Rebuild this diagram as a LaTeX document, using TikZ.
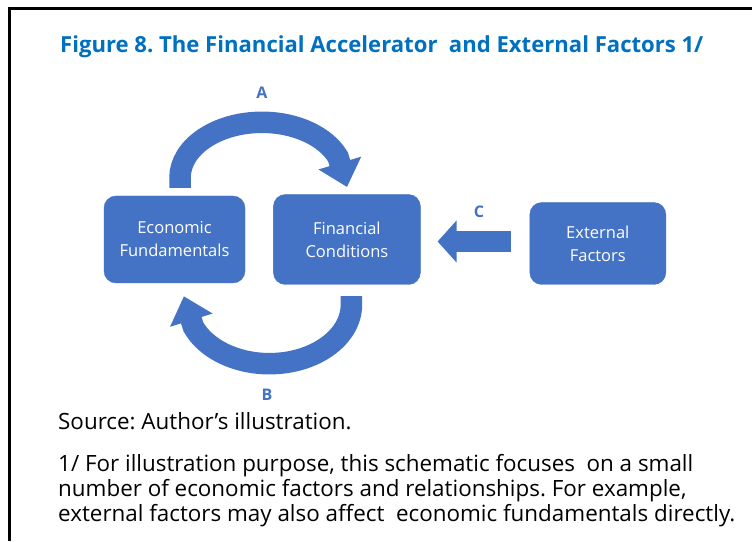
\documentclass[tikz,border=0pt]{standalone}
\usepackage{fontspec}
\setmainfont{Open Sans}
\frenchspacing
\usetikzlibrary{arrows.meta,positioning}
\definecolor{boxblue}{HTML}{4472C4}
\definecolor{titleblue}{HTML}{0070C0}

\begin{document}
\begin{tikzpicture}[x=1pt,y=1pt,
  box/.style={draw=boxblue,fill=boxblue,rounded corners=12pt,text=white,align=center,
              inner sep=0pt,font=\fontsize{16.5}{23}\selectfont},
  tag/.style={text=boxblue,font=\fontsize{16}{16}\selectfont\bfseries},
  flow/.style={draw=boxblue,line width=21.5pt,-{Triangle[length=25pt,width=43pt]}},
  note/.style={anchor=base west,inner sep=0pt,font=\fontsize{22.4}{25}\selectfont}]
  \useasboundingbox[fill=white] (0,0) rectangle (752,541);
  % frame round the figure
  \draw[line width=3pt] (9,0) -- (9,532) -- (752,532);

  \node[anchor=base west,inner sep=0pt,text=titleblue,font=\fontsize{22.1}{22}\selectfont\bfseries]
       (title) at (60,488) {Figure 8. The Financial Accelerator\ \ and External Factors 1/};

  % the three blocks
  \node[box,minimum width=141pt,minimum height=87pt] (ef) at (174.5,301.5) {Economic\\ Fundamentals};
  \node[box,minimum width=147pt,minimum height=90pt,right=28pt of ef] (fc) {Financial\\ Conditions};
  \node[box,minimum width=136pt,minimum height=82pt,right=109pt of fc,yshift=-4pt] (ext) {External\\ Factors};

  % loop between fundamentals and conditions
  \draw[flow] ([shift={(5.5,8)}]ef.north) -- ++(0,10)
        arc[start angle=180,end angle=22,x radius=82,y radius=55.5] -- ++(9,-30);
  \draw[flow] ([shift={(4.5,-11.5)}]fc.south) -- ++(0,-8.5)
        arc[start angle=0,end angle=-158,x radius=82,y radius=59] -- ++(-9.5,30.5);
  \draw[flow,line width=21pt,-{Triangle[length=19pt,width=41pt]}]
        ([shift={(-19,2)}]ext.west) -- ([shift={(17,-2)}]fc.east);

  \node[tag] (a) at (262,448) {A};
  \node[tag] (b) at (267,146) {B};
  \node[tag] (c) at (479,329) {C};

  % source and footnote
  \node[note] (src) at (58,111) {Source: Author’s illustration.};
  \node[note] (fn1) at (58,70) {1/ For illustration purpose, this schematic focuses\ \ on a small};
  \node[note] (fn2) at (58,45) {number of economic factors and relationships. For example,};
  \node[note] (fn3) at (58,20) {external factors may also affect\ \ economic fundamentals directly.};
\end{tikzpicture}
\end{document}
